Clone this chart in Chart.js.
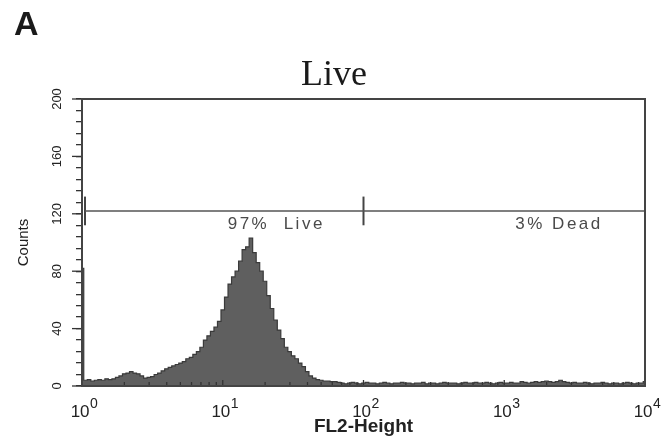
<!DOCTYPE html>
<html>
<head>
<meta charset="utf-8">
<script src="https://cdn.jsdelivr.net/npm/chart.js@4.4.0/dist/chart.umd.min.js"></script>
<style>
  html, body { margin: 0; padding: 0; background: #fff; }
</style>
</head>
<body>
<canvas id="chart1" width="667" height="440"></canvas>
<script>
// -- THE DATA --

// FL2 counts per bin, bins are 0.025 decades wide starting at 10^0
const chart1_counts = [
  82,4,4.5,3.5,4,4.5,4,5,4.5,5,
  6,7,8.5,9,10,9,8.5,7,5.5,6,
  6.5,8,9,10.5,12,13,14,15,16,17,
  19,20,22,24,27,32,35,38,41,45,
  53,62,71,76,80,87,95,97,103,93,
  86,80,73,63,54,46,39,33,27,24,
  21,19,16,13.5,10,7,5.5,4.5,4,3.5,
  3.5,3,3,2.5,2,1.5,
  2,2.5,2,1.5,2,2.5,2,2,1.5,2,2.5,2,1.5,2,2,
  2.5,2,2,1.5,2,2,2.5,1.5,2,2,1.5,2,2.5,2,2,
  2,1.5,2,2.5,2,2,2.5,2,2,2.5,2,1.5,2,2.5,2,
  2,2.5,2,2,3,2.5,2,2.5,3,2.5,3,3.5,3,2.5,3,4,3,2.5,2,2.5,
  2,2,2.5,2,1.5,2,2,2.5,2,1.5,2,2,1.5,2,2.5,2,1.5,2,2,3
];
const chart1_binStep = 0.025;

// decade ticks: base "10" with exponent
const chart1_xTicks = [1, 10, 100, 1000, 10000];
const chart1_xExponents = ["0", "1", "2", "3", "4"];

// marker gate: left edge, split between live / dead, right edge, level
const chart1_gateX = [1.05, 100, 10000];
const chart1_gateY = 122;

const chart1_gateText = ["97%  Live", "3% Dead"];
const chart1_gateTextX = [24, 2450];
const chart1_gateTextY = 113;

// -- THE DATA OBJ --

const chart1_points = chart1_counts.map((c, i) => ({ x: Math.pow(10, i * chart1_binStep), y: c }));

const chart1_data_obj = {
  datasets: [
    {
      data: [{ x: chart1_gateX[0], y: chart1_gateY }, { x: chart1_gateX[2], y: chart1_gateY }],
      borderColor: '#555',
      borderWidth: 1.5,
      pointRadius: 0,
      fill: false
    },
    {
      data: [{ x: chart1_gateX[0], y: chart1_gateY - 10 }, { x: chart1_gateX[0], y: chart1_gateY + 10 }],
      borderColor: '#444',
      borderWidth: 2,
      pointRadius: 0,
      fill: false
    },
    {
      data: [{ x: chart1_gateX[1], y: chart1_gateY - 10 }, { x: chart1_gateX[1], y: chart1_gateY + 10 }],
      borderColor: '#444',
      borderWidth: 2,
      pointRadius: 0,
      fill: false
    },
    {
      data: chart1_points,
      borderColor: '#3a3a3a',
      borderWidth: 1.2,
      backgroundColor: '#5f5f5f',
      fill: 'origin',
      pointRadius: 0,
      stepped: 'middle'
    }
  ]
};

// inward x ticks, decade labels, frame, title and gate labels
const chart1_extras = {
  id: 'chart1_extras',
  afterDatasetsDraw(chart) {
    const ctx = chart.ctx;
    const xs = chart.scales.x, ys = chart.scales.y;
    const a = chart.chartArea;
    ctx.save();
    ctx.strokeStyle = '#333';
    ctx.lineWidth = 1.3;
    for (let k = 0; k < 4; k++) {
      for (let m = 1; m <= 9; m++) {
        const px = xs.getPixelForValue(m * Math.pow(10, k));
        ctx.beginPath();
        ctx.moveTo(px, a.bottom);
        ctx.lineTo(px, a.bottom - (m === 1 ? 6 : 4));
        ctx.stroke();
      }
    }
    // longer y ticks at labelled values
    for (let v = 0; v <= 200; v += 40) {
      const py = ys.getPixelForValue(v);
      ctx.beginPath();
      ctx.moveTo(a.left - 10, py);
      ctx.lineTo(a.left, py);
      ctx.stroke();
    }
    ctx.lineWidth = 2;
    ctx.strokeStyle = '#444';
    ctx.strokeRect(a.left, a.top, a.right - a.left, a.bottom - a.top);

    // x decade labels, 10 with raised exponent
    ctx.fillStyle = '#222';
    ctx.textBaseline = 'alphabetic';
    ctx.textAlign = 'left';
    chart1_xTicks.forEach((v, i) => {
      const px = xs.getPixelForValue(v);
      ctx.font = '17px "Liberation Sans", Arial, sans-serif';
      const wb = ctx.measureText('10').width;
      ctx.font = '14px "Liberation Sans", Arial, sans-serif';
      const we = ctx.measureText(chart1_xExponents[i]).width;
      const x0 = px - (wb + we) / 2 + 2;
      ctx.font = '17px "Liberation Sans", Arial, sans-serif';
      ctx.fillText('10', x0, a.bottom + 31);
      ctx.font = '14px "Liberation Sans", Arial, sans-serif';
      ctx.fillText(chart1_xExponents[i], x0 + wb + 0.5, a.bottom + 22);
    });

    ctx.fillStyle = '#4a4a4a';
    ctx.font = '17px "Liberation Sans", Arial, sans-serif';
    ctx.letterSpacing = '2.5px';
    ctx.textAlign = 'center';
    ctx.textBaseline = 'middle';
    chart1_gateText.forEach((t, i) => {
      ctx.fillText(t, xs.getPixelForValue(chart1_gateTextX[i]), ys.getPixelForValue(chart1_gateTextY));
    });
    ctx.letterSpacing = '0px';

    ctx.fillStyle = '#1a1a1a';
    ctx.font = '36px "Liberation Serif", "Times New Roman", serif';
    ctx.textBaseline = 'alphabetic';
    ctx.fillText('Live', 334, 85);

    ctx.font = 'bold 34px "Liberation Sans", Arial, sans-serif';
    ctx.textAlign = 'left';
    ctx.fillText('A', 14, 35);
    ctx.restore();
  }
};

// -- THE CHART --

Chart.defaults.font.family = '"Liberation Sans", Arial, sans-serif';
Chart.defaults.color = '#222';

const chart1_chart_obj = {
  type: 'line',
  data: chart1_data_obj,
  options: {
    responsive: false,
    animation: false,
    layout: { padding: { top: 99, right: 22, left: 0, bottom: 0 } },
    plugins: { legend: { display: false }, tooltip: { enabled: false } },
    scales: {
      x: {
        type: 'logarithmic',
        min: 1,
        max: 10000,
        afterBuildTicks: s => { s.ticks = chart1_xTicks.map(v => ({ value: v, major: true })); },
        afterFit: s => { s.height = 54; },
        ticks: { display: false },
        grid: { display: false },
        border: { display: true, color: '#333', width: 2 },
        title: {
          display: true,
          text: 'FL2-Height',
          font: { size: 19, weight: 'bold' },
          padding: { top: 0, bottom: 2 }
        }
      },
      y: {
        min: 0,
        max: 200,
        afterFit: s => { s.width = 82; },
        ticks: {
          stepSize: 8,
          autoSkip: false,
          minRotation: 90,
          maxRotation: 90,
          crossAlign: 'center',
          padding: 8,
          font: { size: 13 },
          callback: v => (v % 40 === 0 ? v : '')
        },
        grid: { drawOnChartArea: false, tickLength: 6, color: '#333', lineWidth: 1.3 },
        border: { display: true, color: '#333', width: 2 },
        title: {
          display: true,
          text: 'Counts',
          font: { size: 15 },
          padding: { top: 15 }
        }
      }
    }
  },
  plugins: [chart1_extras]
};

new Chart('chart1', chart1_chart_obj);
</script>
</body>
</html>
